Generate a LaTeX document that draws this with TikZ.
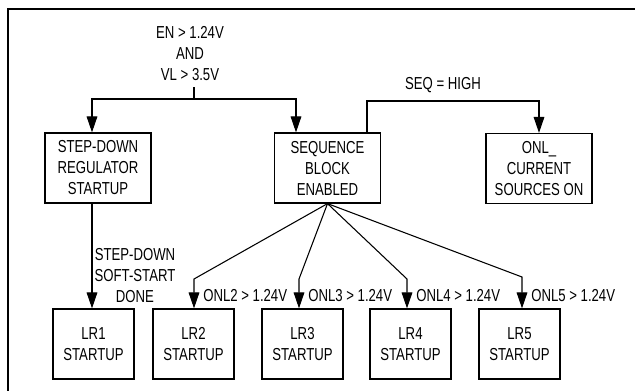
\documentclass[tikz,border=0pt]{standalone}
\usepackage{fontspec}
\setmainfont[FakeStretch=0.76]{Liberation Sans}
\usetikzlibrary{arrows.meta}

\begin{document}
\begin{tikzpicture}[x=0.75pt, y=-0.75pt,
  font=\fontsize{13}{15.75}\selectfont,
  blk/.style={draw, line width=0.9pt, align=center, minimum width=79.5pt, minimum height=52.5pt, inner sep=0pt},
  lrblk/.style={blk, minimum width=60.75pt},
  lbl/.style={align=center, inner sep=0pt},
  arr/.style={line width=0.8pt, -{Triangle[length=12pt, width=8pt]}}]
\useasboundingbox (0,0) rectangle (635,390);
\clip (0,0) rectangle (635,390);
\draw[line width=1.5pt] (8,9) rectangle (660,410);

% condition text
\node[lbl] (cond) at (190,54) {EN > 1.24V\\AND\\VL > 3.5V};

% boxes
\node[blk] (sd)  at (98,168)    {STEP-DOWN\\REGULATOR\\STARTUP};
\node[blk] (seq) at (327.5,168) {SEQUENCE\\BLOCK\\ENABLED};
\node[blk] (onl) at (539,168.5) {ONL\_\\CURRENT\\SOURCES ON};

\node[lrblk] (lr1) at (93.5,344)  {LR1\\STARTUP};
\node[lrblk] (lr2) at (193.5,344) {LR2\\STARTUP};
\node[lrblk] (lr3) at (302.5,344) {LR3\\STARTUP};
\node[lrblk] (lr4) at (410.5,344) {LR4\\STARTUP};
\node[lrblk] (lr5) at (519.5,344) {LR5\\STARTUP};

% split points
\coordinate (c0) at (194,87);
\coordinate (c1) at (194,99);
\coordinate (xa) at (92,0);
\coordinate (xb) at (296,0);
\coordinate (xs) at (367,101);
\coordinate (b2) at (194,279);
\coordinate (b3) at (299,279);
\coordinate (b4) at (407,279);
\coordinate (b5) at (522,277);

\draw[line width=0.8pt] (c0) -- (c1);
\draw[arr] (c1) -| (xa |- sd.north);
\draw[arr] (c1) -| (xb |- seq.north);

\draw[arr] (xs |- seq.north) -- (xs) -| (onl.north);
\node[lbl] (high) at (443,85) {SEQ = HIGH};

\draw[arr] (xa |- sd.south) -- (xa |- lr1.north);
\node[lbl] (sdone) at (135,276) {STEP-DOWN\\SOFT-START\\DONE};

\draw[arr] (seq.south) -- (b2) -- (b2 |- lr2.north);
\draw[arr] (seq.south) -- (b3) -- (b3 |- lr3.north);
\draw[arr] (seq.south) -- (b4) -- (b4 |- lr4.north);
\draw[arr] (seq.south) -- (b5) -- (b5 |- lr5.north);

\node[lbl, anchor=west] (on2) at (203,296) {ONL2 > 1.24V};
\node[lbl, anchor=west] (on3) at (308,296) {ONL3 > 1.24V};
\node[lbl, anchor=west] (on4) at (416,296) {ONL4 > 1.24V};
\node[lbl, anchor=west] (on5) at (531,296) {ONL5 > 1.24V};

\end{tikzpicture}
\end{document}
